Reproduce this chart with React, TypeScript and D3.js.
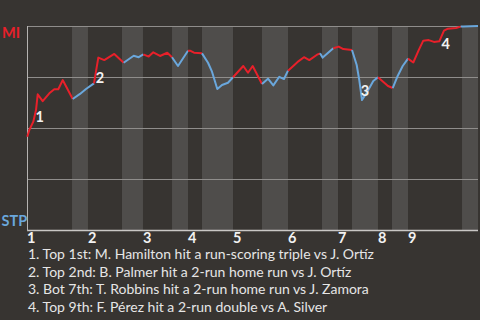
import React from 'react';
import * as d3 from 'd3';

const W = 480;
const H = 320;

// plate-appearance progress index for each point of the win-probability line
const paIndex = [
  0.06, 0.49, 1.34, 1.92, 2.28, 3.34, 4.75, 5.81, 6.66, 7.6, 9.73,
  11.28, 12.56, 14.26,
  15.18, 16.45, 18.58, 20.58,
  22.71, 23.78, 24.76,
  25.9, 26.88, 28.31, 29.86, 30.86,
  32.14, 34.27,
  34.7, 35.55, 37.25,
  38.53, 39.38, 40.51, 41.51, 42.78, 43.85,
  46.04, 47.04, 48.04, 50.02,
  51.3, 52.43, 53.7, 54.7, 55.56,
  56.68, 57.83, 58.96, 60.09, 61.66, 62.37,
  62.94, 65.2,
  66.35, 67.33, 69.18,
  70.18, 70.73, 71.31, 72.31, 73.71, 74.71,
  75.56, 76.84, 77.84,
  78.82, 79.97, 81.1,
  82.23, 83.38, 84.35, 85.5, 86.63, 87.76, 88.76, 89.61, 91.32, 92.32,
  92.88, 96,
];
// MI win probability at each point
const winProb = [
  0.457, 0.49, 0.531, 0.588, 0.665, 0.632, 0.67, 0.69, 0.69, 0.735, 0.642,
  0.667, 0.691, 0.719,
  0.845, 0.833, 0.863, 0.82,
  0.854, 0.847, 0.861,
  0.85, 0.871, 0.853, 0.869, 0.847,
  0.804, 0.879,
  0.879, 0.869, 0.866,
  0.82, 0.776, 0.691, 0.711, 0.722, 0.749,
  0.804, 0.771, 0.804, 0.716,
  0.742, 0.709, 0.751, 0.74, 0.781,
  0.804, 0.828, 0.847, 0.833, 0.858, 0.866,
  0.845, 0.891,
  0.899, 0.887, 0.882,
  0.809, 0.735, 0.637, 0.673, 0.73, 0.749,
  0.732, 0.706, 0.696,
  0.751, 0.804, 0.84,
  0.821, 0.882, 0.928, 0.931, 0.922, 0.925, 0.977, 0.987, 0.99, 0.997,
  0.997, 1.0,
];
// team batting on the segment ending at each point
const batting = [
  'MI', 'MI', 'MI', 'MI', 'MI', 'MI', 'MI', 'MI', 'MI', 'MI', 'MI',
  'STP', 'STP', 'STP',
  'MI', 'MI', 'MI', 'MI',
  'STP', 'STP', 'STP',
  'MI', 'MI', 'MI', 'MI', 'MI',
  'STP', 'STP',
  'MI', 'MI', 'MI',
  'STP', 'STP', 'STP', 'STP', 'STP', 'STP',
  'MI', 'MI', 'MI', 'MI',
  'STP', 'STP', 'STP', 'STP', 'STP',
  'MI', 'MI', 'MI', 'MI', 'MI', 'MI',
  'STP', 'STP',
  'MI', 'MI', 'MI',
  'STP', 'STP', 'STP', 'STP', 'STP', 'STP',
  'MI', 'MI', 'MI',
  'STP', 'STP', 'STP',
  'MI', 'MI', 'MI', 'MI', 'MI', 'MI', 'MI', 'MI', 'MI', 'MI',
  'STP', 'STP',
];

const topStarts = [0, 12.98, 24.69, 34.27, 43.85, 55.56, 66.2, 74.71, 81.1];
const bottomStarts = [9.58, 20.22, 30.87, 37.25, 50.02, 62.79, 69.18, 77.69, 92.6];
const gameEnd = 96;
const inningLabels = ['1', '2', '3', '4', '5', '6', '7', '8', '9'];
const gridValues = [0.25, 0.5, 0.75, 1];

const noteNums = ['1', '2', '3', '4'];
const notePa = [2.7, 15.54, 71.94, 89.12];
const noteWp = [0.555, 0.744, 0.684, 0.915];
const noteTexts = [
  '1. Top 1st: M. Hamilton hit a run-scoring triple vs J. Ortíz',
  '2. Top 2nd: B. Palmer hit a 2-run home run vs J. Ortíz',
  '3. Bot 7th: T. Robbins hit a 2-run home run vs J. Zamora',
  '4. Top 9th: F. Pérez hit a 2-run double vs A. Silver',
];

const teamColor: Record<string, string> = { MI: '#e8202a', STP: '#6aa7dc' };

const FONT = 'Lato, "Open Sans", sans-serif';

export default function App() {
  const x = d3.scaleLinear().domain([0, gameEnd]).range([27, 478]);
  const y = d3.scaleLinear().domain([0, 1]).range([230, 26]);
  const line = d3
    .line<[number, number]>()
    .x((d) => x(d[0]))
    .y((d) => y(d[1]));

  // group consecutive segments with the same colour
  const runs: { team: string; pts: [number, number][] }[] = [];
  for (let i = 1; i < paIndex.length; i++) {
    const t = batting[i];
    const prev: [number, number] = [paIndex[i - 1], winProb[i - 1]];
    const cur: [number, number] = [paIndex[i], winProb[i]];
    const last = runs[runs.length - 1];
    if (last && last.team === t) last.pts.push(cur);
    else runs.push({ team: t, pts: [prev, cur] });
  }

  return (
    <svg
      width={W}
      height={H}
      style={{ position: 'absolute', left: 0, top: 0, display: 'block' }}
    >
      <rect x={0} y={0} width={W} height={H} fill="#373431" />
      {bottomStarts.map((b, i) => {
        const end = i + 1 < topStarts.length ? topStarts[i + 1] : gameEnd;
        return (
          <rect
            key={'band' + i}
            x={x(b)}
            y={y(1)}
            width={x(end) - x(b)}
            height={y(0) - y(1)}
            fill="#4f4d4b"
          />
        );
      })}
      {gridValues.map((g) => (
        <line
          key={'g' + g}
          x1={x(0)}
          x2={x(gameEnd)}
          y1={Math.round(y(g)) + 0.5}
          y2={Math.round(y(g)) + 0.5}
          stroke="#8f8d8b"
          strokeWidth={1}
        />
      ))}
      <line x1={x(0)} x2={x(gameEnd)} y1={230.5} y2={230.5} stroke="#c9c7c5" strokeWidth={1.3} />
      <line x1={27.5} x2={27.5} y1={y(1)} y2={231} stroke="#b5b3b1" strokeWidth={1} />
      {runs.map((r, i) => (
        <path
          key={'run' + i}
          d={line(r.pts) || ''}
          fill="none"
          stroke={teamColor[r.team]}
          strokeWidth={2}
          strokeLinejoin="round"
        />
      ))}
      {noteNums.map((n, i) => (
        <text
          key={'note' + i}
          x={x(notePa[i])}
          y={y(noteWp[i])}
          dy="0.36em"
          textAnchor="middle"
          fontFamily={FONT}
          fontWeight="bold"
          fontSize={14.5}
          fill="#f2f2f2"
        >
          {n}
        </text>
      ))}
      <text x={2} y={38.3} fontFamily={FONT} fontWeight="bold" fontSize={14.5} fill="#e8202a">
        MI
      </text>
      <text x={1.5} y={226} fontFamily={FONT} fontWeight="bold" fontSize={14.5} fill="#6aa7dc">
        STP
      </text>
      {topStarts.map((t, i) => (
        <text
          key={'inn' + i}
          x={x(t)}
          y={243}
          fontFamily={FONT}
          fontWeight="bold"
          fontSize={14.5}
          fill="#f2f2f2"
        >
          {inningLabels[i]}
        </text>
      ))}
      {noteTexts.map((t, i) => (
        <text
          key={'leg' + i}
          x={28}
          y={259 + i * 17.7}
          fontFamily={FONT}
          fontSize={14}
          fill="#e6e6e6"
        >
          {t}
        </text>
      ))}
    </svg>
  );
}
